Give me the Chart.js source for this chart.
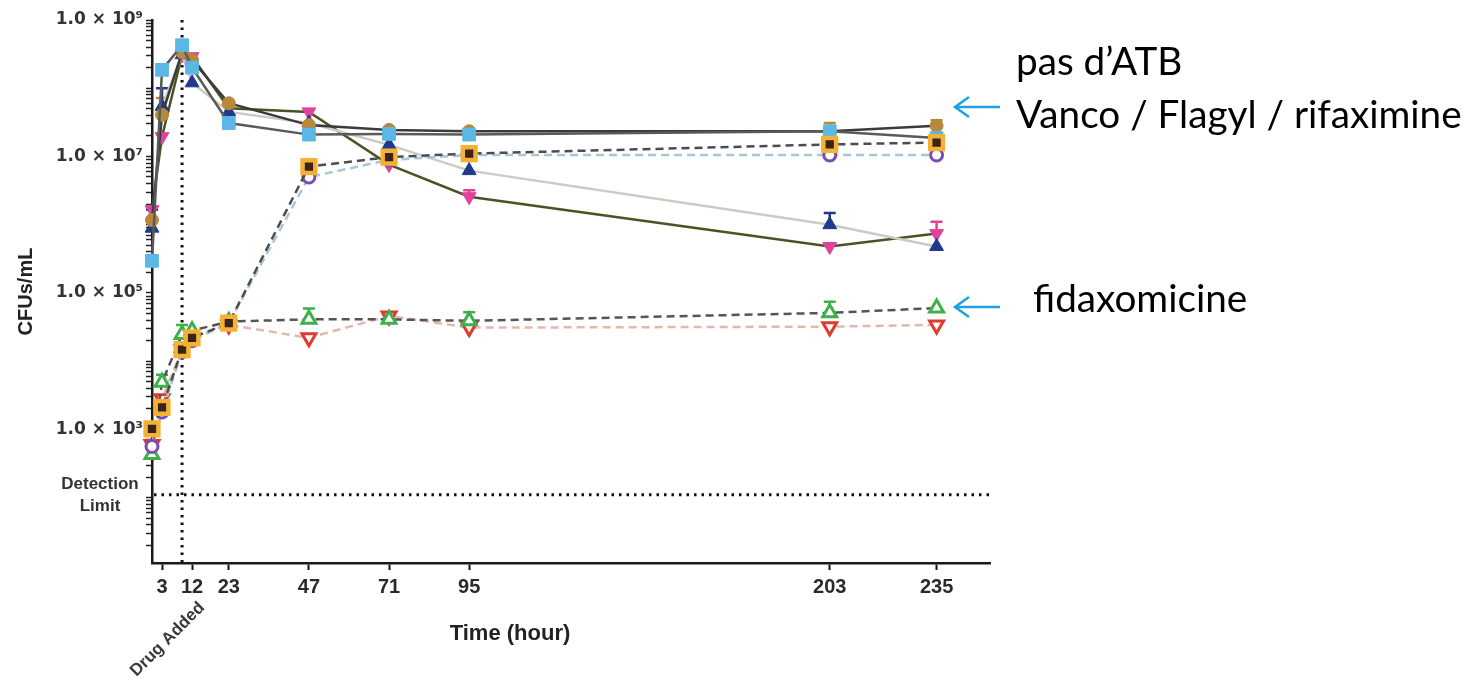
<!DOCTYPE html>
<html>
<head>
<meta charset="utf-8">
<script src="https://cdn.jsdelivr.net/npm/chart.js@4.4.1/dist/chart.umd.min.js"></script>
<style>
  html, body { margin: 0; padding: 0; background: #ffffff; }
  #wrap { width: 1481px; height: 680px; position: relative; }
</style>
</head>
<body>
<div id="wrap"><canvas id="chart" width="1481" height="680"></canvas></div>
<script>
// ---------- data ----------
const hours = [0, 3, 9, 12, 23, 47, 71, 95, 203, 235];
const xTickHours = [3, 12, 23, 47, 71, 95, 203, 235];
const drugAddedHour = 9;
const detectionLimit = 110;
const yLabelledExponents = [3, 5, 7, 9];

// filled symbols, solid lines
const blueSquare   = [2.95e5, 1.86e8, 4.27e8, 2.0e8, 3.09e7, 2.09e7, 2.14e7, 2.09e7, 2.34e7, 1.86e7];
const tanCircle    = [1.17e6, 4.07e7, 3.39e8, 2.57e8, 6.03e7, 2.88e7, 2.45e7, 2.34e7, 2.34e7, 2.82e7];
const tanCircleErr = [null, 7.2e7, null, null, null, null, null, null, 3.1e7, 3.4e7];
const navyTriangle    = [8.9e5, 5.4e7, 3.1e8, 1.2e8, 4.5e7, 3.1e7, 1.48e7, 6.2e6, 1.0e6, 4.8e5];
const navyTriangleErr = [1.66e6, 1.0e8, null, null, null, null, null, null, 1.48e6, null];
const pinkTriangle    = [1.66e6, 1.95e7, 3.1e8, 2.9e8, 5.1e7, 4.5e7, 7.6e6, 2.57e6, 4.8e5, 7.4e5];
const pinkTriangleErr = [null, null, null, null, null, null, null, 3.2e6, null, 1.1e6];

// open symbols, dashed lines
const orangeSquare  = [1.02e3, 2.1e3, 1.48e4, 2.2e4, 3.6e4, 7.1e6, 9.8e6, 1.1e7, 1.5e7, 1.6e7];
const purpleCircle  = [5.6e2, 1.8e3, 1.38e4, 2.0e4, 3.6e4, 5.0e6, 8.9e6, 1.05e7, 1.05e7, 1.05e7];
const greenTriangle    = [4.3e2, 4.9e3, 2.45e4, 2.8e4, 3.8e4, 4.1e4, 4.1e4, 3.9e4, 5.1e4, 6.0e4];
const greenTriangleErr = [null, 6.3e3, 3.4e4, null, null, 5.9e4, null, 5.2e4, 7.4e4, null];
const redTriangle   = [6.0e2, 2.8e3, 1.48e4, 2.2e4, 3.4e4, 2.2e4, 4.6e4, 3.1e4, 3.2e4, 3.4e4];

const annotationTop = ['pas d\u2019ATB', 'Vanco / Flagyl / rifaximine'];
const annotationBottom = 'fidaxomicine';

// ---------- helpers ----------
const FONT = '"Liberation Sans", Arial, sans-serif';
const YFONT = '"DejaVu Sans", "Liberation Sans", sans-serif';
const sup = { '3': '\u00B3', '5': '\u2075', '7': '\u2077', '9': '\u2079' };
const toPoints = vals => hours.map((h, i) => ({ x: h, y: vals[i] }));

function series(label, vals, opts) {
  return Object.assign({
    label: label,
    data: toPoints(vals),
    borderWidth: 2.5,
    tension: 0,
    clip: false,
    pointHoverRadius: 0,
    fill: false
  }, opts);
}

const datasets = [
  series('orange square', orangeSquare, {
    borderColor: '#4d4d4d', borderDash: [8, 5],
    pointStyle: 'rect', pointRadius: 9, pointBorderWidth: 4.5,
    pointBorderColor: '#F3B236', pointBackgroundColor: '#3a2419'
  }),
  series('purple circle', purpleCircle, {
    borderColor: '#a7c6dc', borderDash: [8, 5],
    pointStyle: 'circle', pointRadius: 6, pointBorderWidth: 3,
    pointBorderColor: '#7A4DB3', pointBackgroundColor: '#ffffff'
  }),
  series('green triangle', greenTriangle, {
    borderColor: '#555555', borderDash: [8, 5],
    pointStyle: 'triangle', pointRadius: 8, pointBorderWidth: 3,
    pointBorderColor: '#3DAF4B', pointBackgroundColor: '#ffffff',
    errTop: greenTriangleErr
  }),
  series('red triangle', redTriangle, {
    borderColor: '#e3b9ad', borderDash: [8, 5],
    pointStyle: 'triangle', pointRotation: 180, pointRadius: 8, pointBorderWidth: 3,
    pointBorderColor: '#E0392D', pointBackgroundColor: '#ffffff'
  }),
  series('blue square', blueSquare, {
    borderColor: '#5a5a5a',
    pointStyle: 'rect', pointRadius: 9, pointBorderWidth: 1,
    pointBorderColor: '#5BB7E6', pointBackgroundColor: '#5BB7E6'
  }),
  series('tan circle', tanCircle, {
    borderColor: '#3b3b3b',
    pointStyle: 'circle', pointRadius: 6.5, pointBorderWidth: 1,
    pointBorderColor: '#B8883C', pointBackgroundColor: '#B8883C',
    errTop: tanCircleErr
  }),
  series('navy triangle', navyTriangle, {
    borderColor: '#cbcbc2',
    pointStyle: 'triangle', pointRadius: 8, pointBorderWidth: 1,
    pointBorderColor: '#1F3A8A', pointBackgroundColor: '#1F3A8A',
    errTop: navyTriangleErr
  }),
  series('pink triangle', pinkTriangle, {
    borderColor: '#4a5322',
    pointStyle: 'triangle', pointRotation: 180, pointRadius: 8, pointBorderWidth: 1,
    pointBorderColor: '#E0429C', pointBackgroundColor: '#E0429C',
    errTop: pinkTriangleErr
  })
];

// ---------- overlay plugin: reference lines, error bars, notes ----------
const overlay = {
  id: 'overlay',
  beforeDatasetsDraw(chart) {
    const { ctx, chartArea: a, scales: { x, y } } = chart;
    ctx.save();
    ctx.strokeStyle = '#111111';
    ctx.lineWidth = 3;
    ctx.setLineDash([2.5, 5]);
    const xd = x.getPixelForValue(drugAddedHour);
    ctx.beginPath(); ctx.moveTo(xd, a.top); ctx.lineTo(xd, a.bottom); ctx.stroke();
    const yd = y.getPixelForValue(detectionLimit);
    ctx.beginPath(); ctx.moveTo(a.left + 2, yd); ctx.lineTo(a.right, yd); ctx.stroke();
    ctx.setLineDash([]);
    // error bars (upper)
    chart.data.datasets.forEach(ds => {
      if (!ds.errTop) return;
      ctx.strokeStyle = ds.pointBorderColor;
      ctx.lineWidth = 2.5;
      ds.errTop.forEach((e, i) => {
        if (e == null) return;
        const px = x.getPixelForValue(hours[i]);
        const p0 = y.getPixelForValue(ds.data[i].y);
        const p1 = y.getPixelForValue(e);
        ctx.beginPath();
        ctx.moveTo(px, p0); ctx.lineTo(px, p1);
        ctx.moveTo(px - 6, p1); ctx.lineTo(px + 6, p1);
        ctx.stroke();
      });
    });
    ctx.restore();
  },
  afterDraw(chart) {
    const { ctx, chartArea: a, scales: { x, y } } = chart;
    ctx.save();
    // Detection limit label
    const yd = y.getPixelForValue(detectionLimit);
    ctx.fillStyle = '#333333';
    ctx.font = 'bold 17px ' + FONT;
    ctx.textAlign = 'center';
    ctx.textBaseline = 'middle';
    ctx.fillText('Detection', 100, yd - 10);
    ctx.fillText('Limit', 100, yd + 12);
    // x title
    ctx.font = 'bold 22px ' + FONT;
    ctx.fillStyle = '#222222';
    ctx.fillText('Time (hour)', 510, 634);
    // Drug Added label
    const xd = x.getPixelForValue(drugAddedHour);
    ctx.save();
    ctx.translate(xd + 20, a.bottom + 42);
    ctx.rotate(-Math.PI / 4);
    ctx.font = 'bold 17px ' + FONT;
    ctx.fillStyle = '#3a3a3a';
    ctx.textAlign = 'right';
    ctx.textBaseline = 'middle';
    ctx.fillText('Drug Added', 0, 0);
    ctx.restore();
    // annotations on the right
    const annFont = '"Lato", "Open Sans", sans-serif';
    ctx.font = '36px ' + annFont;
    const w = ctx.measureText(annotationTop[1]).width;
    const size = 36 * 446 / w;
    ctx.font = size.toFixed(1) + 'px ' + annFont;
    ctx.fillStyle = '#000000';
    ctx.textAlign = 'left';
    ctx.textBaseline = 'alphabetic';
    ctx.fillText(annotationTop[0], 1016, 75);
    ctx.fillText(annotationTop[1], 1016, 128);
    ctx.fillText(annotationBottom, 1033, 312);
    // arrows
    ctx.strokeStyle = '#1BA3E0';
    ctx.lineWidth = 2.5;
    [107, 307].forEach(yy => {
      ctx.beginPath();
      ctx.moveTo(1000, yy); ctx.lineTo(956, yy);
      ctx.moveTo(969, yy - 10); ctx.lineTo(955, yy); ctx.lineTo(969, yy + 10);
      ctx.stroke();
    });
    ctx.restore();
  }
};

new Chart(document.getElementById('chart'), {
  type: 'line',
  data: { datasets: datasets },
  plugins: [overlay],
  options: {
    responsive: false,
    devicePixelRatio: 1,
    animation: false,
    events: [],
    layout: { padding: { top: 20, right: 491, bottom: 0, left: 0 } },
    plugins: { legend: { display: false }, tooltip: { enabled: false } },
    scales: {
      x: {
        type: 'linear', min: 0, max: 251,
        afterBuildTicks: s => { s.ticks = xTickHours.map(v => ({ value: v })); },
        afterFit: s => { s.height = 117; },
        ticks: { autoSkip: false, maxRotation: 0, padding: 5, color: '#2a2a2a',
                 font: { family: FONT, weight: 'bold', size: 20 } },
        grid: { drawOnChartArea: false, drawTicks: true, tickLength: 7, tickColor: '#111', tickWidth: 2 },
        border: { display: true, color: '#1a1a1a', width: 2.5 }
      },
      y: {
        type: 'logarithmic', min: 11, max: 1e9,
        afterBuildTicks: s => {
          const t = [];
          for (let e = 1; e < 9; e++) for (let m = 1; m < 10; m++) {
            const v = m * Math.pow(10, e);
            if (v >= 11) t.push({ value: v });
          }
          t.push({ value: 1e9 });
          s.ticks = t;
        },
        afterFit: s => { s.width = 152; },
        ticks: {
          autoSkip: false, padding: 3, color: '#333333',
          font: { family: YFONT, weight: 'bold', size: 17 },
          callback: v => {
            for (const e of yLabelledExponents) {
              if (v === Math.pow(10, e)) return '1.0 \u00D7 10' + sup[String(e)];
            }
            return '';
          }
        },
        grid: { drawOnChartArea: false, drawTicks: true, tickLength: 6, tickColor: '#222', tickWidth: 1.5 },
        border: { display: true, color: '#1a1a1a', width: 2.5 },
        title: { display: true, text: 'CFUs/mL', color: '#222222',
                 font: { family: FONT, weight: 'bold', size: 20 }, padding: { top: 14, bottom: 0 } }
      }
    }
  }
});
</script>
</body>
</html>
